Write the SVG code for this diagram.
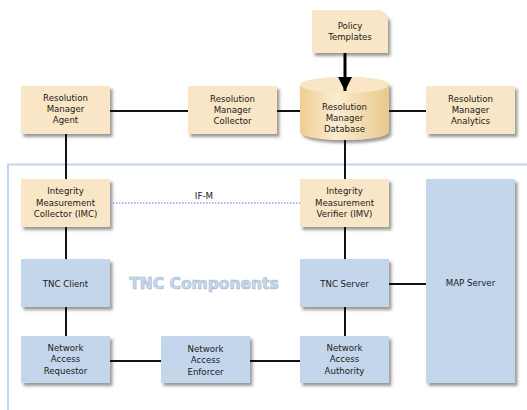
<svg xmlns="http://www.w3.org/2000/svg" width="527" height="410" viewBox="0 0 527 410">
<defs>
<filter id="sh" x="-10%" y="-10%" width="130%" height="140%">
<feDropShadow dx="2.5" dy="3" stdDeviation="1.5" flood-color="#555" flood-opacity="0.6"/>
</filter>
<linearGradient id="cyl" x1="0" y1="0" x2="1" y2="0">
<stop offset="0" stop-color="#efcd92"/>
<stop offset="0.4" stop-color="#fbecd0"/>
<stop offset="1" stop-color="#eac88c"/>
</linearGradient>
<marker id="arr" viewBox="0 0 14 14" refX="14" refY="7" markerWidth="14" markerHeight="14" markerUnits="userSpaceOnUse" orient="auto">
<path d="M0,0 L14,7 L0,14 z" fill="#000"/>
</marker>
<style>
.tan{fill:#f8e6c6;filter:url(#sh)}
.blue{fill:#c4d6ec;filter:url(#sh)}
.t{font-family:"DejaVu Sans",Verdana,sans-serif;font-size:8.6px;fill:#1a1a1a;text-anchor:middle}
.c{stroke:#111;stroke-width:2;fill:none}
</style>
</defs>
<rect x="8" y="164.5" width="530" height="260" fill="none" stroke="#c2d4ea" stroke-width="2"/>
<text x="204" y="289" font-family="'DejaVu Sans',Verdana,sans-serif" font-weight="bold" font-size="15.5" fill="#c9d9ee" stroke="#9fb3cc" stroke-width="0.6" text-anchor="middle">TNC Components</text>
<g id="policy">
<path d="M312,10 H380 L388,18 V53 H312 Z" class="tan"/>
<text class="t" x="350" y="29">Policy</text>
<text class="t" x="350" y="40">Templates</text>
</g>
<g id="agent">
<rect x="21" y="86" width="89" height="48" class="tan"/>
<text class="t" x="65.5" y="101">Resolution</text>
<text class="t" x="65.5" y="112">Manager</text>
<text class="t" x="65.5" y="123">Agent</text>
</g>
<g id="collector">
<rect x="188" y="86" width="89" height="48" class="tan"/>
<text class="t" x="232.5" y="102">Resolution</text>
<text class="t" x="232.5" y="113">Manager</text>
<text class="t" x="232.5" y="124">Collector</text>
</g>
<g id="database">
<path d="M300,85 V132 A44.5,8 0 0 0 389,132 V85 A44.5,8 0 0 0 300,85 Z" fill="url(#cyl)" style="filter:url(#sh)"/>
<ellipse cx="344.5" cy="85" rx="44.5" ry="8" fill="#f9e6c4"/>
<text class="t" x="344.5" y="110">Resolution</text>
<text class="t" x="344.5" y="121">Manager</text>
<text class="t" x="344.5" y="132">Database</text>
</g>
<g id="analytics">
<rect x="426" y="86" width="89" height="48" class="tan"/>
<text class="t" x="470.5" y="102">Resolution</text>
<text class="t" x="470.5" y="113">Manager</text>
<text class="t" x="470.5" y="124">Analytics</text>
</g>
<g id="imc">
<rect x="21" y="179" width="89" height="48" class="tan"/>
<text class="t" x="65.5" y="194">Integrity</text>
<text class="t" x="65.5" y="206">Measurement</text>
<text class="t" x="65.5" y="217">Collector (IMC)</text>
</g>
<g id="imv">
<rect x="300" y="179" width="89" height="48" class="tan"/>
<text class="t" x="344.5" y="194">Integrity</text>
<text class="t" x="344.5" y="206">Measurement</text>
<text class="t" x="344.5" y="217">Verifier (IMV)</text>
</g>
<g id="map">
<rect x="426" y="179" width="89" height="204" class="blue"/>
<text class="t" x="470.5" y="286">MAP Server</text>
</g>
<g id="tncclient">
<rect x="21" y="259" width="89" height="48" class="blue"/>
<text class="t" x="65.5" y="287">TNC Client</text>
</g>
<g id="tncserver">
<rect x="300" y="259" width="89" height="48" class="blue"/>
<text class="t" x="344.5" y="287">TNC Server</text>
</g>
<g id="nar">
<rect x="21" y="336" width="89" height="47" class="blue"/>
<text class="t" x="65.5" y="351">Network</text>
<text class="t" x="65.5" y="362">Access</text>
<text class="t" x="65.5" y="374">Requestor</text>
</g>
<g id="nae">
<rect x="161" y="336" width="89" height="47" class="blue"/>
<text class="t" x="205.5" y="352">Network</text>
<text class="t" x="205.5" y="363">Access</text>
<text class="t" x="205.5" y="375">Enforcer</text>
</g>
<g id="naa">
<rect x="300" y="336" width="89" height="47" class="blue"/>
<text class="t" x="344.5" y="351">Network</text>
<text class="t" x="344.5" y="362">Access</text>
<text class="t" x="344.5" y="374">Authority</text>
</g>
<g id="connectors">
<line class="c" x1="110" y1="111" x2="188" y2="111"/>
<line class="c" x1="277" y1="111" x2="300" y2="111"/>
<line class="c" x1="389" y1="111" x2="426" y2="111"/>
<line class="c" x1="66" y1="134" x2="66" y2="179"/>
<line class="c" x1="345" y1="140" x2="345" y2="179"/>
<line stroke="#000" stroke-width="3" x1="345" y1="53" x2="345" y2="91" marker-end="url(#arr)"/>
<line stroke="#9999ee" stroke-width="1.5" stroke-dasharray="1.5,1.5" x1="110" y1="203" x2="300" y2="203"/>
<text x="204" y="199" class="t" style="font-size:8.8px">IF-M</text>
<line class="c" x1="66" y1="227" x2="66" y2="259"/>
<line class="c" x1="345" y1="227" x2="345" y2="259"/>
<line class="c" x1="389" y1="284" x2="426" y2="284"/>
<line class="c" x1="66" y1="307" x2="66" y2="336"/>
<line class="c" x1="345" y1="307" x2="345" y2="336"/>
<line class="c" x1="110" y1="361" x2="161" y2="361"/>
<line class="c" x1="250" y1="361" x2="300" y2="361"/>
</g>
</svg>
